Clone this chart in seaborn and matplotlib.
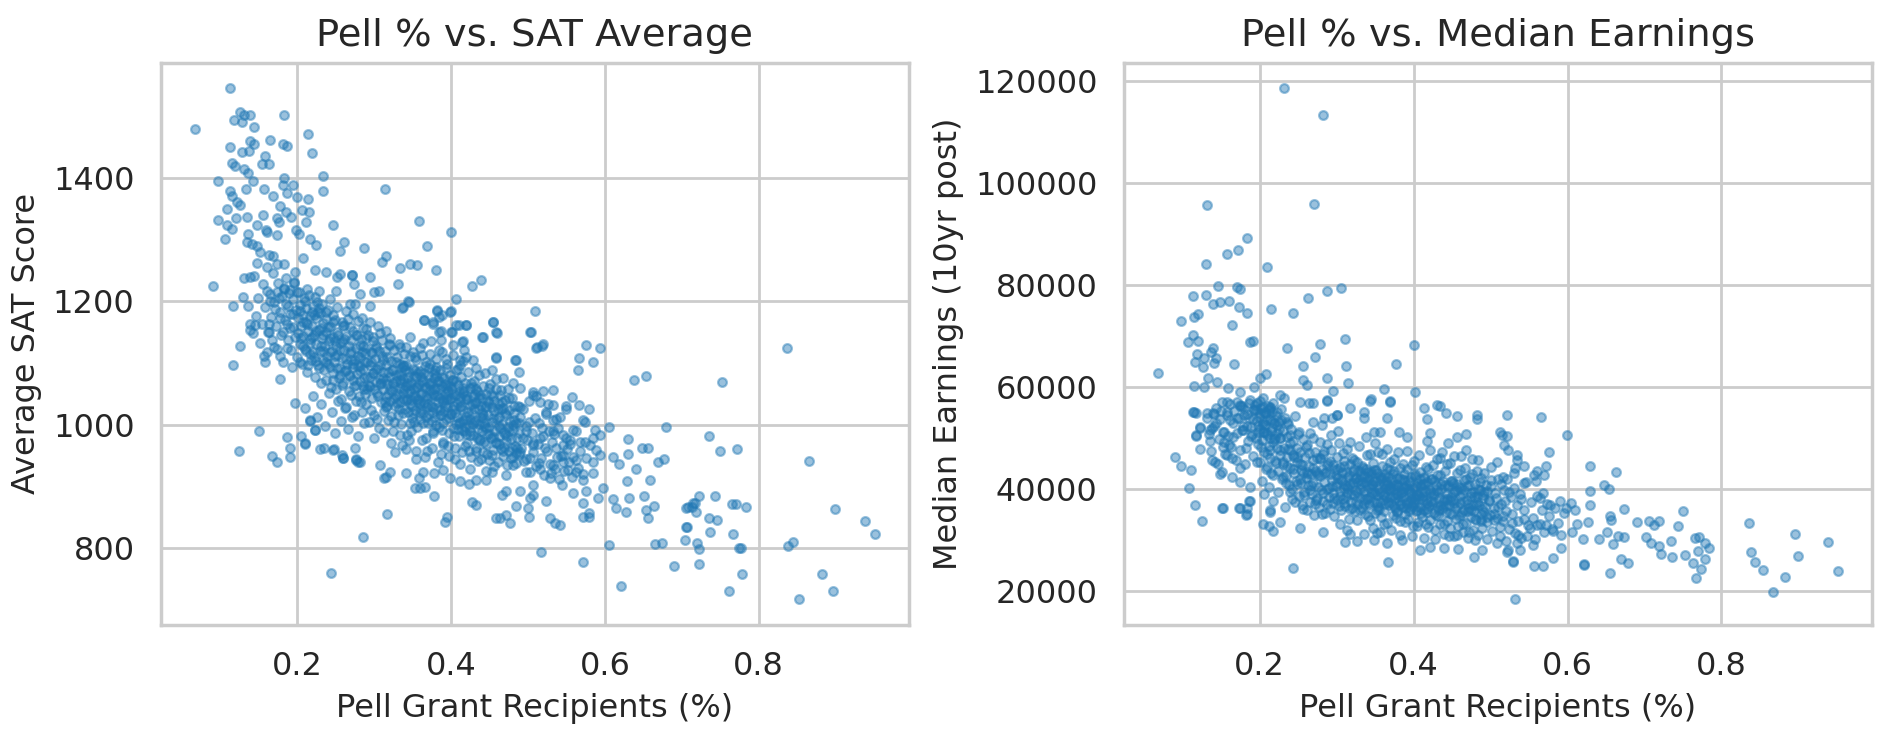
import matplotlib
matplotlib.use('Agg')
import matplotlib.pyplot as plt
import pandas as pd
import seaborn as sns

# -- Data (pell share, SAT average) ----------------------------------------
sat_sparse = [
    (0.113, 1545), (0.067, 1479), (0.126, 1506), (0.131, 1502), (0.139, 1502), (0.118, 1493), (0.128, 1490),
    (0.183, 1502), (0.144, 1482), (0.214, 1471), (0.219, 1440), (0.139, 1459), (0.144, 1455), (0.137, 1444),
    (0.128, 1441), (0.113, 1449), (0.158, 1435), (0.154, 1423), (0.163, 1423), (0.165, 1461), (0.181, 1455),
    (0.187, 1452), (0.115, 1424), (0.119, 1419), (0.131, 1414), (0.136, 1408), (0.097, 1395), (0.142, 1395),
    (0.183, 1399), (0.181, 1388), (0.187, 1376), (0.195, 1389), (0.234, 1402), (0.234, 1379), (0.314, 1382),
    (0.113, 1379), (0.115, 1371), (0.122, 1361), (0.126, 1356), (0.133, 1381), (0.157, 1381), (0.169, 1371),
    (0.178, 1354), (0.185, 1344), (0.192, 1336), (0.200, 1369), (0.214, 1366), (0.206, 1347), (0.215, 1344),
    (0.211, 1328), (0.108, 1350), (0.097, 1332), (0.120, 1334), (0.134, 1337), (0.155, 1340), (0.173, 1334),
    (0.176, 1329), (0.148, 1324), (0.109, 1324), (0.115, 1317), (0.106, 1300), (0.136, 1309), (0.159, 1315),
    (0.161, 1312), (0.174, 1307), (0.198, 1315), (0.202, 1309), (0.246, 1323), (0.358, 1330), (0.400, 1312),
    (0.216, 1300), (0.224, 1291), (0.261, 1296), (0.255, 1282), (0.287, 1286), (0.369, 1290), (0.310, 1264),
    (0.316, 1273), (0.135, 1296), (0.141, 1293), (0.148, 1290), (0.152, 1279), (0.163, 1275), (0.147, 1262),
    (0.161, 1255), (0.168, 1274), (0.174, 1261), (0.183, 1261), (0.207, 1270), (0.223, 1251), (0.238, 1247),
    (0.255, 1244), (0.271, 1243), (0.294, 1239), (0.334, 1254), (0.347, 1261), (0.356, 1258), (0.380, 1251),
    (0.091, 1224), (0.131, 1237), (0.138, 1239), (0.144, 1241), (0.331, 1228), (0.427, 1224), (0.439, 1234),
    (0.406, 1203), (0.509, 1184), (0.344, 1200), (0.336, 1189), (0.116, 1192), (0.136, 1192), (0.129, 1207),
    (0.161, 1217), (0.165, 1201), (0.174, 1215), (0.183, 1220), (0.196, 1231), (0.200, 1215), (0.213, 1220),
    (0.228, 1216), (0.250, 1217), (0.252, 1239), (0.271, 1242), (0.274, 1228), (0.282, 1212), (0.300, 1215),
    (0.306, 1217), (0.295, 1192), (0.139, 1163), (0.145, 1161), (0.163, 1163), (0.163, 1150), (0.139, 1153),
    (0.126, 1128), (0.365, 1169), (0.384, 1174), (0.382, 1185), (0.398, 1183), (0.377, 1163), (0.410, 1161),
    (0.419, 1161), (0.415, 1136), (0.400, 1150), (0.384, 1150), (0.440, 1142), (0.454, 1167), (0.460, 1149),
    (0.503, 1150), (0.512, 1126), (0.518, 1128), (0.484, 1104), (0.458, 1109), (0.170, 1126), (0.177, 1111),
    (0.157, 1112), (0.244, 760), (0.285, 818), (0.317, 855), (0.353, 897), (0.360, 897), (0.366, 899),
    (0.378, 884), (0.392, 842), (0.395, 851), (0.427, 874), (0.432, 870), (0.459, 849), (0.464, 849),
    (0.471, 853), (0.477, 840), (0.484, 868), (0.500, 865), (0.502, 851), (0.517, 794), (0.524, 877),
    (0.529, 849), (0.535, 840), (0.542, 838), (0.572, 777), (0.572, 851), (0.580, 851), (0.572, 873),
    (0.580, 857), (0.606, 805), (0.621, 738), (0.690, 771), (0.665, 807), (0.674, 808), (0.704, 813),
    (0.706, 835), (0.706, 865), (0.713, 867), (0.717, 873), (0.504, 1150), (0.511, 1125), (0.519, 1130),
    (0.575, 1129), (0.594, 1125), (0.567, 1108), (0.565, 1088), (0.584, 1101), (0.638, 1073), (0.654, 1079),
    (0.679, 996), (0.606, 996), (0.630, 977), (0.648, 963), (0.656, 963), (0.669, 939), (0.677, 944),
    (0.610, 947), (0.619, 936), (0.630, 953), (0.641, 929), (0.629, 909), (0.631, 882), (0.651, 884),
    (0.659, 911), (0.611, 879), (0.615, 865), (0.628, 859), (0.654, 862), (0.656, 849), (0.664, 869),
    (0.455, 1167), (0.459, 1150), (0.441, 1142), (0.458, 1108), (0.483, 1105), (0.453, 1088), (0.488, 1085),
    (0.365, 1170), (0.377, 1167), (0.382, 1184), (0.388, 1177), (0.400, 1184), (0.407, 1162), (0.420, 1161),
    (0.387, 1151), (0.387, 1137), (0.401, 1150), (0.414, 1134), (0.417, 1121), (0.412, 1105), (0.429, 1105),
    (0.338, 1191), (0.345, 1198), (0.275, 1195), (0.269, 1196), (0.210, 970), (0.229, 961), (0.247, 959),
    (0.258, 951), (0.260, 946), (0.223, 991), (0.217, 1006), (0.275, 962), (0.277, 942), (0.282, 939),
    (0.308, 935), (0.315, 916), (0.313, 913), (0.321, 924), (0.342, 921), (0.358, 913), (0.364, 924),
    (0.378, 922), (0.390, 927), (0.399, 913), (0.411, 909), (0.423, 904), (0.433, 911), (0.446, 911),
    (0.453, 924), (0.466, 886), (0.472, 892), (0.490, 892), (0.503, 882), (0.507, 886), (0.544, 902),
    (0.559, 889), (0.576, 892), (0.591, 881), (0.598, 897), (0.552, 927), (0.563, 924), (0.572, 911),
    (0.585, 921), (0.533, 935), (0.546, 951), (0.563, 943), (0.576, 946), (0.585, 940), (0.594, 951),
    (0.546, 967), (0.555, 968), (0.568, 972), (0.581, 967), (0.585, 978), (0.594, 983), (0.589, 959),
    (0.557, 1045), (0.566, 1032), (0.580, 1025), (0.550, 1026), (0.572, 1008), (0.574, 1005), (0.559, 991),
    (0.587, 991), (0.533, 1056), (0.520, 1054), (0.507, 1053), (0.533, 1032), (0.537, 1010), (0.533, 989),
    (0.468, 1075), (0.481, 1067), (0.490, 1059), (0.507, 1048), (0.516, 1037), (0.524, 1021), (0.498, 989),
    (0.516, 978), (0.507, 967), (0.503, 946), (0.516, 929), (0.529, 913), (0.490, 956), (0.481, 935),
    (0.472, 919), (0.498, 924), (0.507, 902), (0.837, 1125), (0.753, 1069), (0.736, 982), (0.772, 960),
    (0.750, 957), (0.866, 941), (0.723, 885), (0.743, 885), (0.715, 873), (0.708, 866), (0.719, 858),
    (0.735, 849), (0.746, 845), (0.765, 871), (0.771, 871), (0.783, 866), (0.707, 835), (0.737, 826),
    (0.767, 823), (0.720, 808), (0.723, 799), (0.775, 801), (0.777, 801), (0.900, 863), (0.939, 844),
    (0.951, 823), (0.838, 804), (0.845, 810), (0.882, 758), (0.897, 731), (0.853, 717), (0.778, 758),
    (0.762, 731), (0.723, 774), (0.116, 1096), (0.158, 1102), (0.177, 1074), (0.150, 989), (0.124, 958),
    (0.167, 949), (0.174, 939), (0.186, 980), (0.191, 962), (0.191, 947), (0.197, 1035), (0.210, 1027),
    (0.205, 982), (0.210, 969), (0.216, 1008), (0.223, 992), (0.235, 962), (0.248, 960), (0.259, 946),
    (0.276, 944), (0.279, 939),
]

# dense band, estimated by eye
sat_dense = [
    (0.171, 1188), (0.176, 1205), (0.178, 1172), (0.181, 1150), (0.183, 1221), (0.185, 1196), (0.186, 1163),
    (0.188, 1137), (0.189, 1214), (0.191, 1180), (0.192, 1121), (0.194, 1203), (0.195, 1158), (0.196, 1229),
    (0.197, 1142), (0.198, 1186), (0.199, 1109), (0.201, 1172), (0.202, 1215), (0.203, 1131), (0.204, 1194),
    (0.205, 1160), (0.206, 1098), (0.207, 1178), (0.208, 1143), (0.209, 1206), (0.210, 1122), (0.211, 1167),
    (0.212, 1189), (0.213, 1085), (0.214, 1151), (0.215, 1210), (0.216, 1133), (0.217, 1176), (0.218, 1104),
    (0.219, 1160), (0.220, 1192), (0.221, 1118), (0.222, 1145), (0.223, 1078), (0.224, 1172), (0.225, 1130),
    (0.226, 1198), (0.227, 1096), (0.228, 1153), (0.229, 1119), (0.230, 1181), (0.231, 1067), (0.232, 1140),
    (0.233, 1105), (0.234, 1164), (0.235, 1088), (0.236, 1127), (0.237, 1150), (0.238, 1073), (0.239, 1112),
    (0.240, 1186), (0.241, 1135), (0.242, 1094), (0.243, 1158), (0.244, 1061), (0.245, 1120), (0.246, 1142),
    (0.247, 1083), (0.248, 1101), (0.249, 1169), (0.250, 1128), (0.251, 1057), (0.252, 1113), (0.253, 1146),
    (0.254, 1075), (0.255, 1092), (0.256, 1132), (0.257, 1041), (0.258, 1108), (0.259, 1160), (0.260, 1068),
    (0.261, 1121), (0.262, 1087), (0.263, 1143), (0.264, 1029), (0.265, 1099), (0.266, 1171), (0.267, 1054),
    (0.268, 1116), (0.269, 1079), (0.270, 1137), (0.271, 1012), (0.272, 1094), (0.273, 1152), (0.274, 1063),
    (0.275, 1105), (0.276, 1038), (0.277, 1125), (0.278, 1082), (0.279, 1168), (0.280, 1047), (0.281, 1110),
    (0.282, 1071), (0.283, 1139), (0.284, 1021), (0.285, 1090), (0.286, 1156), (0.287, 1058), (0.288, 1102),
    (0.289, 1033), (0.290, 1124), (0.291, 1077), (0.292, 1145), (0.293, 1004), (0.294, 1096), (0.295, 1062),
    (0.296, 1118), (0.297, 1043), (0.298, 1084), (0.299, 1135), (0.300, 1016), (0.301, 1107), (0.302, 1069),
    (0.303, 1128), (0.304, 1051), (0.305, 1091), (0.306, 995), (0.307, 1074), (0.308, 1148), (0.309, 1036),
    (0.310, 1112), (0.311, 1058), (0.312, 1086), (0.313, 1022), (0.314, 1119), (0.315, 1045), (0.316, 1097),
    (0.317, 1066), (0.318, 1008), (0.319, 1131), (0.320, 1077), (0.321, 1039), (0.322, 1103), (0.323, 1054),
    (0.324, 989), (0.325, 1088), (0.326, 1121), (0.327, 1031), (0.328, 1070), (0.329, 1047), (0.330, 1109),
    (0.331, 1015), (0.332, 1082), (0.333, 1060), (0.334, 1126), (0.335, 1001), (0.336, 1093), (0.337, 1042),
    (0.338, 1074), (0.339, 1115), (0.340, 1026), (0.341, 1063), (0.342, 1097), (0.343, 984), (0.344, 1052),
    (0.345, 1085), (0.346, 1034), (0.347, 1112), (0.348, 1069), (0.349, 1011), (0.350, 1046), (0.351, 1091),
    (0.352, 1057), (0.353, 1023), (0.354, 1078), (0.355, 1104), (0.356, 996), (0.357, 1040), (0.358, 1066),
    (0.359, 1019), (0.360, 1087), (0.361, 1050), (0.362, 1113), (0.363, 1003), (0.364, 1072), (0.365, 1035),
    (0.366, 1095), (0.367, 1061), (0.368, 979), (0.369, 1044), (0.370, 1081), (0.371, 1017), (0.372, 1056),
    (0.373, 1099), (0.374, 1030), (0.375, 1068), (0.376, 990), (0.377, 1049), (0.378, 1084), (0.379, 1012),
    (0.380, 1059), (0.381, 1106), (0.382, 1027), (0.383, 1071), (0.384, 997), (0.385, 1043), (0.386, 1088),
    (0.387, 1015), (0.388, 1063), (0.389, 1036), (0.390, 972), (0.391, 1076), (0.392, 1050), (0.393, 1009),
    (0.394, 1092), (0.395, 1029), (0.396, 1065), (0.397, 986), (0.398, 1041), (0.399, 1080), (0.400, 1018),
    (0.315, 1072), (0.322, 1014), (0.328, 1101), (0.333, 1037), (0.338, 1051), (0.343, 1068), (0.347, 1002),
    (0.352, 1079), (0.356, 1042), (0.361, 1025), (0.366, 1060), (0.371, 1092), (0.375, 1006), (0.379, 1047),
    (0.384, 1070), (0.388, 992), (0.392, 1031), (0.396, 1054), (0.318, 1049), (0.326, 1063), (0.335, 1080),
    (0.344, 1021), (0.353, 1046), (0.362, 1069), (0.370, 1033), (0.378, 1058), (0.386, 1024), (0.394, 1045),
    (0.401, 1057), (0.402, 995), (0.403, 1073), (0.404, 1031), (0.405, 962), (0.406, 1048), (0.407, 1088),
    (0.408, 1012), (0.409, 1064), (0.410, 981), (0.411, 1039), (0.412, 1005), (0.413, 1077), (0.414, 956),
    (0.415, 1023), (0.416, 1052), (0.417, 989), (0.418, 1068), (0.419, 1014), (0.420, 1041), (0.421, 970),
    (0.422, 1086), (0.423, 1000), (0.424, 1032), (0.425, 1059), (0.426, 948), (0.427, 1018), (0.428, 1046),
    (0.429, 983), (0.430, 1071), (0.431, 1008), (0.432, 1037), (0.433, 962), (0.434, 1054), (0.435, 993),
    (0.436, 1025), (0.437, 1080), (0.438, 976), (0.439, 1012), (0.440, 1043), (0.441, 955), (0.442, 1062),
    (0.443, 998), (0.444, 1029), (0.445, 968), (0.446, 1050), (0.447, 985), (0.448, 1016), (0.449, 943),
    (0.450, 1035), (0.451, 1066), (0.452, 978), (0.453, 1004), (0.454, 1047), (0.455, 959), (0.456, 1022),
    (0.457, 990), (0.458, 1058), (0.459, 971), (0.460, 1010), (0.461, 940), (0.462, 1033), (0.463, 982),
    (0.464, 1048), (0.465, 961), (0.466, 1001), (0.467, 1027), (0.468, 950), (0.469, 988), (0.470, 1040),
    (0.471, 973), (0.472, 1015), (0.473, 935), (0.474, 996), (0.475, 1024), (0.476, 958), (0.477, 1006),
    (0.478, 977), (0.479, 1044), (0.480, 947), (0.481, 992), (0.482, 1019), (0.483, 965), (0.484, 938),
    (0.485, 1003), (0.486, 978), (0.487, 1031), (0.488, 953), (0.489, 987), (0.490, 1012), (0.405, 1019),
    (0.412, 1045), (0.418, 996), (0.424, 1010), (0.431, 1050), (0.437, 1001), (0.443, 972), (0.450, 997),
    (0.456, 1038), (0.463, 1013), (0.469, 964), (0.476, 990), (0.410, 1002), (0.420, 985), (0.430, 1026),
    (0.440, 990), (0.455, 980), (0.465, 1025), (0.480, 1000), (0.491, 962), (0.493, 1026), (0.495, 941),
    (0.497, 998), (0.499, 975), (0.501, 1039), (0.503, 924), (0.505, 987), (0.507, 955), (0.509, 1011),
    (0.511, 933), (0.513, 969), (0.515, 1002), (0.517, 946), (0.519, 981), (0.521, 918), (0.523, 1018),
    (0.525, 958), (0.527, 990), (0.529, 937), (0.531, 972), (0.533, 1008), (0.535, 929), (0.537, 963),
    (0.539, 995), (0.541, 912), (0.543, 950), (0.545, 984), (0.547, 925), (0.549, 1030), (0.551, 961),
    (0.553, 939), (0.555, 976), (0.557, 915), (0.559, 948), (0.562, 990), (0.565, 930), (0.568, 958),
    (0.571, 920), (0.574, 972), (0.142, 1148), (0.146, 1176), (0.149, 1205), (0.152, 1132), (0.154, 1163),
    (0.156, 1228), (0.158, 1190), (0.160, 1118), (0.162, 1150), (0.164, 1212), (0.166, 1175), (0.167, 1137),
    (0.169, 1245), (0.170, 1198), (0.172, 1160), (0.173, 1122), (0.175, 1230), (0.177, 1183), (0.179, 1145),
    (0.180, 1209), (0.182, 1101), (0.184, 1170), (0.185, 1238), (0.187, 1125), (0.188, 1193), (0.190, 1156),
    (0.191, 1218), (0.193, 1094), (0.195, 1180), (0.197, 1247),
]

# second pass over the blob, wider spread
sat_fill = [
    (0.221, 1046), (0.226, 1012), (0.231, 1033), (0.236, 998), (0.241, 1052), (0.245, 1020), (0.249, 987),
    (0.253, 1039), (0.257, 1006), (0.262, 1027), (0.266, 993), (0.270, 1048), (0.274, 1015), (0.279, 982),
    (0.283, 1036), (0.287, 1002), (0.291, 1058), (0.296, 1024), (0.300, 979), (0.304, 1010), (0.308, 1066),
    (0.313, 988), (0.317, 1030), (0.322, 971), (0.326, 1005), (0.223, 1207), (0.227, 1183), (0.232, 1196),
    (0.237, 1171), (0.242, 1203), (0.247, 1178), (0.252, 1190), (0.258, 1166), (0.263, 1184), (0.268, 1158),
    (0.273, 1179), (0.278, 1146), (0.284, 1172), (0.289, 1155), (0.294, 1167), (0.299, 1142), (0.305, 1160),
    (0.310, 1137), (0.316, 1152), (0.321, 1129), (0.203, 1102), (0.205, 1141), (0.208, 1166), (0.211, 1119),
    (0.214, 1096), (0.217, 1138), (0.219, 1183), (0.222, 1109), (0.225, 1151), (0.228, 1092), (0.231, 1128),
    (0.234, 1145), (0.237, 1101), (0.240, 1158), (0.243, 1117), (0.246, 1073), (0.249, 1136), (0.252, 1092),
    (0.255, 1121), (0.258, 1064), (0.261, 1139), (0.264, 1107), (0.267, 1081), (0.270, 1120), (0.273, 1098),
    (0.276, 1065), (0.279, 1111), (0.282, 1087), (0.285, 1128), (0.288, 1049), (0.291, 1101), (0.294, 1077),
    (0.297, 1116), (0.300, 1058), (0.303, 1091), (0.306, 1120), (0.309, 1068), (0.312, 1104), (0.315, 1029),
    (0.318, 1085), (0.321, 1140), (0.324, 1068), (0.327, 955), (0.330, 1035), (0.333, 1098), (0.336, 967),
    (0.339, 1058), (0.342, 1126), (0.345, 976), (0.348, 1040), (0.351, 1118), (0.354, 958), (0.357, 1083),
    (0.360, 1010), (0.363, 1133), (0.366, 948), (0.369, 1029), (0.372, 1115), (0.375, 962), (0.378, 1075),
    (0.381, 1000), (0.384, 1121), (0.387, 952), (0.390, 1040), (0.393, 1106), (0.396, 966), (0.399, 1062),
    (0.402, 1113), (0.405, 944), (0.408, 1035), (0.411, 1097), (0.414, 992), (0.417, 1054), (0.420, 1110),
    (0.423, 957), (0.426, 1068), (0.429, 1001), (0.432, 1092), (0.435, 941), (0.438, 1048), (0.441, 1011),
    (0.444, 1083), (0.447, 952), (0.450, 1060), (0.453, 1029), (0.456, 933), (0.459, 1074), (0.462, 998),
    (0.465, 1056), (0.331, 1049), (0.334, 1072), (0.337, 1019), (0.340, 1088), (0.343, 1041), (0.346, 1064),
    (0.349, 1030), (0.352, 1005), (0.355, 1061), (0.358, 1034), (0.361, 1078), (0.364, 1019), (0.367, 1046),
    (0.370, 1003), (0.373, 1065), (0.376, 1028), (0.379, 1089), (0.382, 1048), (0.385, 1016), (0.388, 1077),
    (0.391, 1022), (0.394, 1060), (0.397, 1011), (0.400, 1043), (0.403, 1026), (0.406, 1071), (0.409, 993),
    (0.412, 1028), (0.415, 1060), (0.418, 1007), (0.421, 1042), (0.424, 984), (0.427, 1033), (0.430, 1004),
    (0.433, 1058), (0.436, 977), (0.439, 1030), (0.442, 1016), (0.445, 995), (0.448, 1039), (0.462, 969),
    (0.466, 1037), (0.470, 985), (0.474, 1058), (0.478, 946), (0.482, 1008), (0.486, 963), (0.490, 1028),
    (0.494, 979), (0.498, 944), (0.502, 1005), (0.506, 971), (0.510, 1046), (0.514, 938), (0.518, 995),
    (0.522, 962), (0.526, 1034), (0.530, 921), (0.534, 985), (0.538, 948), (0.542, 1012), (0.546, 939),
    (0.550, 978),
]

# third pass, the saturated core
sat_core = [
    (0.281, 1095), (0.284, 1118), (0.287, 1076), (0.290, 1140), (0.293, 1062), (0.296, 1101), (0.299, 1083),
    (0.302, 1124), (0.305, 1046), (0.308, 1097), (0.311, 1075), (0.314, 1036), (0.317, 1110), (0.320, 1058),
    (0.323, 1089), (0.326, 1044), (0.329, 1081), (0.332, 1025), (0.335, 1067), (0.338, 1097), (0.341, 1040),
    (0.344, 1077), (0.347, 1055), (0.350, 1019), (0.353, 1088), (0.356, 1061), (0.359, 1035), (0.362, 1052),
    (0.365, 1083), (0.368, 1012), (0.371, 1068), (0.374, 1046), (0.377, 1021), (0.380, 1079), (0.383, 1037),
    (0.386, 1058), (0.389, 1003), (0.392, 1066), (0.395, 1042), (0.398, 1018), (0.401, 1072), (0.404, 1049),
    (0.407, 1001), (0.410, 1055), (0.413, 1030), (0.416, 1008), (0.419, 1047), (0.422, 1021), (0.425, 990),
    (0.428, 1061), (0.431, 1035), (0.434, 979), (0.437, 1044), (0.440, 1019), (0.443, 1002), (0.446, 1030),
    (0.449, 985), (0.452, 1049), (0.455, 1011), (0.458, 972), (0.461, 1026), (0.464, 994), (0.467, 957),
    (0.470, 1019), (0.473, 981), (0.476, 1043), (0.479, 963), (0.482, 1031), (0.485, 954), (0.488, 1002),
    (0.201, 1148), (0.204, 1184), (0.207, 1127), (0.210, 1201), (0.213, 1163), (0.216, 1114), (0.219, 1142),
    (0.222, 1178), (0.225, 1103), (0.228, 1189), (0.231, 1156), (0.234, 1120), (0.237, 1183), (0.240, 1099),
    (0.243, 1141), (0.246, 1166), (0.249, 1112), (0.252, 1150), (0.255, 1080), (0.258, 1135), (0.261, 1161),
    (0.264, 1089), (0.267, 1127), (0.270, 1104), (0.273, 1073), (0.276, 1146), (0.279, 1095), (0.282, 1129),
    (0.285, 1062), (0.288, 1116), (0.332, 1131), (0.339, 1095), (0.346, 1142), (0.353, 1110), (0.360, 1125),
    (0.367, 1101), (0.374, 1135), (0.381, 1093), (0.388, 1117), (0.395, 1098), (0.402, 1129), (0.409, 1090),
    (0.416, 1103), (0.334, 983), (0.341, 961), (0.348, 990), (0.355, 944), (0.362, 975), (0.369, 957),
    (0.376, 987), (0.383, 939), (0.390, 968), (0.397, 950), (0.404, 981), (0.411, 936), (0.418, 966),
    (0.425, 929), (0.432, 958), (0.439, 944), (0.446, 925), (0.453, 951),
]

# -- Data (pell share, median earnings) ------------------------------------
earn_sparse = [
    (0.232, 118520), (0.282, 113250), (0.132, 95560), (0.271, 95820), (0.184, 89150), (0.157, 86010),
    (0.172, 86860), (0.131, 84050), (0.209, 83590), (0.146, 79800), (0.170, 79540), (0.175, 79220),
    (0.113, 77840), (0.130, 78040), (0.140, 76210), (0.148, 76600), (0.160, 76860), (0.173, 75620),
    (0.184, 74440), (0.287, 78820), (0.306, 79350), (0.263, 77390), (0.215, 75230), (0.244, 74440),
    (0.098, 72940), (0.115, 73790), (0.120, 74250), (0.164, 72160), (0.114, 70200), (0.107, 68760),
    (0.120, 69020), (0.139, 67710), (0.137, 66930), (0.119, 66410), (0.116, 64970), (0.128, 65620),
    (0.143, 65750), (0.141, 64640), (0.127, 63990), (0.188, 68760), (0.192, 69020), (0.235, 67580),
    (0.279, 68430), (0.311, 69350), (0.272, 65820), (0.167, 64510), (0.068, 62680), (0.257, 64120),
    (0.312, 64120), (0.377, 64510), (0.400, 68240), (0.208, 62550), (0.201, 61700), (0.193, 60070),
    (0.256, 61370), (0.261, 60390), (0.287, 61700), (0.315, 60720), (0.296, 59280), (0.287, 57450),
    (0.317, 55820), (0.345, 57650), (0.370, 57250), (0.361, 59540), (0.402, 58950), (0.115, 60260),
    (0.128, 60070), (0.133, 61700), (0.145, 61050), (0.159, 59740), (0.175, 58950), (0.413, 55950),
    (0.430, 56470), (0.435, 56340), (0.442, 54840), (0.456, 54380), (0.483, 54510), (0.482, 53730),
    (0.521, 54510), (0.512, 51240), (0.522, 50460), (0.421, 50920), (0.457, 50260), (0.468, 50720),
    (0.115, 55160), (0.141, 54640), (0.158, 55160), (0.154, 51240), (0.123, 52220), (0.117, 50460),
    (0.132, 53860), (0.138, 51890), (0.366, 53860), (0.336, 53860), (0.301, 54510), (0.284, 53860),
    (0.158, 57120), (0.175, 56470), (0.193, 55690), (0.206, 55160), (0.214, 56140), (0.227, 58430),
    (0.232, 57780), (0.090, 46340), (0.098, 44510), (0.111, 43730), (0.108, 40130), (0.116, 36860),
    (0.125, 33730), (0.114, 55030), (0.118, 54840), (0.132, 54840), (0.140, 54840), (0.117, 50590),
    (0.122, 52030), (0.136, 51570), (0.123, 47840), (0.135, 49410), (0.138, 45690), (0.142, 45360),
    (0.153, 48300), (0.160, 48630), (0.164, 46010), (0.151, 43400), (0.149, 42880), (0.173, 36210),
    (0.184, 36210), (0.183, 35030), (0.151, 36210), (0.186, 37650), (0.175, 41440), (0.188, 40460),
    (0.164, 42420), (0.205, 33070), (0.212, 32740), (0.218, 31830), (0.227, 33460), (0.214, 35880),
    (0.213, 35420), (0.244, 24580), (0.252, 32290), (0.282, 31500), (0.311, 29670), (0.318, 31110),
    (0.326, 29800), (0.348, 30000), (0.352, 31310), (0.365, 29350), (0.367, 25620), (0.385, 30000),
    (0.408, 28040), (0.422, 28690), (0.439, 28500), (0.458, 28240), (0.478, 26730), (0.489, 28040),
    (0.508, 29350), (0.521, 27710), (0.529, 25750), (0.532, 18370), (0.534, 29350), (0.417, 53730),
    (0.417, 49410), (0.445, 48950), (0.335, 55030), (0.344, 57250), (0.370, 57120), (0.381, 51240),
    (0.391, 50260), (0.357, 51240), (0.348, 51240), (0.253, 57120), (0.264, 56800), (0.270, 56800),
    (0.287, 57250), (0.300, 54510), (0.294, 53990), (0.281, 52550), (0.270, 53080), (0.235, 53210),
    (0.222, 52550), (0.205, 51240), (0.214, 49930), (0.227, 49930), (0.240, 50590), (0.152, 36200),
    (0.175, 36340), (0.182, 34890), (0.187, 37640), (0.566, 54050), (0.599, 50520), (0.576, 47190),
    (0.515, 50650), (0.517, 48690), (0.523, 47710), (0.535, 46730), (0.535, 45750), (0.544, 44440),
    (0.531, 43140), (0.572, 44580), (0.561, 43460), (0.557, 42810), (0.570, 42810), (0.559, 41500),
    (0.544, 41180), (0.629, 44580), (0.663, 43270), (0.629, 39540), (0.648, 40850), (0.654, 40070),
    (0.629, 36930), (0.674, 36080), (0.655, 34640), (0.657, 33990), (0.750, 35620), (0.690, 33460),
    (0.706, 33660), (0.713, 33010), (0.719, 33790), (0.743, 32680), (0.702, 30520), (0.709, 29410),
    (0.719, 28760), (0.722, 27250), (0.735, 29870), (0.736, 26670), (0.753, 26990), (0.765, 30390),
    (0.771, 30590), (0.778, 29410), (0.784, 28430), (0.770, 27780), (0.778, 26340), (0.763, 25490),
    (0.774, 24380), (0.767, 22550), (0.673, 30520), (0.665, 30720), (0.659, 29210), (0.641, 30260),
    (0.651, 31570), (0.620, 30260), (0.606, 31570), (0.612, 33140), (0.626, 33530), (0.621, 25290),
    (0.655, 23530), (0.670, 26340), (0.679, 25490), (0.581, 26470), (0.556, 24840), (0.529, 25820),
    (0.836, 33330), (0.839, 27650), (0.844, 25620), (0.854, 24050), (0.882, 22740), (0.867, 19800),
    (0.896, 31180), (0.900, 26800), (0.939, 29610), (0.951, 23860), (0.604, 37250), (0.598, 36270),
    (0.610, 35950), (0.590, 37580), (0.577, 36930), (0.568, 39220), (0.564, 38240), (0.561, 33010),
    (0.572, 33010), (0.581, 31700), (0.592, 28430), (0.555, 29080), (0.538, 28100), (0.523, 28100),
    (0.551, 32350), (0.622, 25050), (0.568, 25000),
]

# dense band, estimated by eye
earn_dense = [
    (0.141, 52340), (0.144, 55810), (0.147, 49870), (0.149, 53620), (0.151, 57140), (0.153, 51080),
    (0.155, 46920), (0.157, 54470), (0.159, 50360), (0.161, 56620), (0.163, 48150), (0.165, 52890),
    (0.167, 55240), (0.169, 45730), (0.171, 50910), (0.173, 53960), (0.175, 47680), (0.177, 56180),
    (0.179, 51520), (0.181, 44890), (0.183, 54710), (0.185, 49330), (0.187, 57450), (0.189, 52150),
    (0.191, 46410), (0.193, 55530), (0.195, 50020), (0.196, 53380), (0.197, 56840), (0.198, 48760),
    (0.199, 54120), (0.200, 51770), (0.201, 45380), (0.202, 55960), (0.203, 49640), (0.204, 53050),
    (0.205, 57810), (0.206, 47190), (0.207, 52480), (0.208, 54930), (0.209, 44260), (0.210, 50570),
    (0.211, 56290), (0.212, 48420), (0.213, 53710), (0.214, 46030), (0.215, 51330), (0.216, 55010),
    (0.217, 42780), (0.218, 49210), (0.219, 52860), (0.220, 45560), (0.221, 54380), (0.222, 47940),
    (0.223, 50880), (0.224, 43620), (0.225, 53170), (0.226, 46750), (0.227, 49980), (0.228, 55620),
    (0.229, 41950), (0.230, 51460), (0.231, 44830), (0.232, 48070), (0.233, 53920), (0.234, 42540),
    (0.235, 50240), (0.236, 46210), (0.237, 52690), (0.238, 40870), (0.239, 47560), (0.240, 44190),
    (0.241, 51810), (0.242, 39920), (0.243, 46660), (0.244, 49350), (0.245, 43080), (0.246, 54240),
    (0.247, 41510), (0.248, 48120), (0.249, 45270), (0.250, 50690), (0.251, 38640), (0.252, 44910),
    (0.253, 47320), (0.254, 41250), (0.255, 36870), (0.256, 49780), (0.257, 43060), (0.258, 39510),
    (0.259, 46180), (0.260, 42230), (0.261, 35920), (0.262, 48530), (0.263, 40740), (0.264, 44470),
    (0.265, 37380), (0.266, 51040), (0.267, 42880), (0.268, 39060), (0.269, 45620), (0.270, 41170),
    (0.271, 34810), (0.272, 47250), (0.273, 43590), (0.274, 38270), (0.275, 45980), (0.276, 40350),
    (0.277, 36460), (0.278, 49120), (0.279, 42610), (0.280, 39840), (0.281, 44010), (0.282, 37710),
    (0.283, 46840), (0.284, 41430), (0.285, 35370), (0.286, 43280), (0.287, 48760), (0.288, 40010),
    (0.289, 45170), (0.290, 38520), (0.291, 42920), (0.292, 36180), (0.293, 47560), (0.294, 41850),
    (0.295, 39270), (0.296, 44650), (0.297, 34620), (0.298, 43770), (0.299, 40580), (0.300, 46290),
    (0.301, 37940), (0.302, 42070), (0.303, 49050), (0.304, 39650), (0.305, 44280), (0.306, 35840),
    (0.307, 41620), (0.308, 38030), (0.309, 45540), (0.310, 40270), (0.311, 36690), (0.312, 43410),
    (0.313, 47830), (0.314, 39180), (0.315, 42450), (0.316, 34190), (0.317, 44840), (0.318, 40910),
    (0.319, 37500), (0.320, 46070), (0.321, 41080), (0.322, 38840), (0.323, 43900), (0.324, 35630),
    (0.325, 42210), (0.326, 39470), (0.327, 45360), (0.328, 37060), (0.329, 41790), (0.330, 43620),
    (0.331, 38210), (0.332, 40950), (0.333, 36370), (0.334, 44120), (0.335, 39590), (0.336, 42640),
    (0.337, 35080), (0.338, 41310), (0.339, 46580), (0.340, 38060), (0.341, 43250), (0.342, 36840),
    (0.343, 40190), (0.344, 33970), (0.345, 42870), (0.346, 39130), (0.347, 45020), (0.348, 37410),
    (0.349, 41580), (0.350, 35290), (0.351, 43670), (0.352, 38740), (0.353, 40620), (0.354, 47310),
    (0.355, 36110), (0.356, 42040), (0.357, 39380), (0.358, 34520), (0.359, 44560), (0.360, 37860),
    (0.361, 41040), (0.362, 35770), (0.363, 43030), (0.364, 38450), (0.365, 40830), (0.366, 33380),
    (0.367, 42380), (0.368, 36930), (0.369, 39810), (0.370, 45290), (0.371, 37230), (0.372, 41760),
    (0.373, 34860), (0.374, 40060), (0.375, 43470), (0.376, 36270), (0.377, 38930), (0.378, 42210),
    (0.379, 35480), (0.380, 40420), (0.381, 37640), (0.382, 44190), (0.383, 33820), (0.384, 39240),
    (0.385, 41890), (0.386, 36560), (0.387, 38470), (0.388, 42930), (0.389, 35010), (0.390, 40760),
    (0.391, 37390), (0.392, 43840), (0.393, 34210), (0.394, 39560), (0.395, 41320), (0.396, 36020),
    (0.397, 38110), (0.398, 44740), (0.399, 32780), (0.400, 40240), (0.401, 37120), (0.402, 42590),
    (0.403, 35660), (0.404, 39020), (0.405, 41140), (0.406, 33590), (0.407, 38660), (0.408, 43310),
    (0.409, 36390), (0.410, 40510), (0.411, 34440), (0.412, 37780), (0.413, 42080), (0.414, 35860),
    (0.415, 39700), (0.416, 33100), (0.417, 41420), (0.418, 37260), (0.419, 44010), (0.420, 36750),
    (0.335, 37020), (0.342, 41930), (0.349, 39020), (0.356, 37450), (0.363, 40210), (0.370, 38380),
    (0.377, 41060), (0.384, 37050), (0.391, 39980), (0.398, 36690), (0.405, 38820), (0.412, 40930),
    (0.338, 43870), (0.352, 35890), (0.366, 44060), (0.380, 38850), (0.394, 35720), (0.408, 39450),
    (0.346, 40820), (0.360, 42270), (0.374, 36710), (0.388, 40150), (0.402, 38040), (0.416, 37920),
    (0.421, 39140), (0.422, 33910), (0.423, 41980), (0.424, 37030), (0.425, 44620), (0.426, 35240),
    (0.427, 38770), (0.428, 31960), (0.429, 40690), (0.430, 36450), (0.431, 42760), (0.432, 34620),
    (0.433, 38280), (0.434, 46060), (0.435, 33120), (0.436, 39930), (0.437, 36080), (0.438, 41550),
    (0.439, 31180), (0.440, 37570), (0.441, 43460), (0.442, 35410), (0.443, 39020), (0.444, 33660),
    (0.445, 40880), (0.446, 36960), (0.447, 45140), (0.448, 32430), (0.449, 38470), (0.450, 35030),
    (0.451, 41210), (0.452, 37780), (0.453, 30860), (0.454, 39560), (0.455, 34170), (0.456, 43050),
    (0.457, 36610), (0.458, 32740), (0.459, 40320), (0.460, 37240), (0.461, 46510), (0.462, 34890),
    (0.463, 38960), (0.464, 31540), (0.465, 41700), (0.466, 35920), (0.467, 44150), (0.468, 33280),
    (0.469, 37910), (0.470, 40560), (0.471, 30440), (0.472, 36330), (0.473, 42380), (0.474, 34520),
    (0.475, 38650), (0.476, 45820), (0.477, 32060), (0.478, 39480), (0.479, 35770), (0.480, 41060),
    (0.481, 33850), (0.482, 37360), (0.483, 43610), (0.484, 30980), (0.485, 36790), (0.486, 39900),
    (0.487, 34080), (0.488, 42140), (0.489, 32370), (0.490, 38180), (0.492, 35530), (0.494, 40770),
    (0.496, 33470), (0.498, 37690), (0.500, 44380), (0.502, 31720), (0.504, 36240), (0.506, 39310),
    (0.508, 34350), (0.510, 41870), (0.512, 30780), (0.514, 37020), (0.516, 33790), (0.518, 39760),
    (0.520, 35680), (0.522, 42010), (0.524, 32250), (0.526, 38440), (0.528, 35160), (0.530, 40230),
    (0.532, 31340), (0.534, 36880), (0.536, 33720), (0.538, 39050), (0.540, 30480), (0.543, 35940),
    (0.546, 41350), (0.549, 32960), (0.552, 37380), (0.555, 34410), (0.558, 30120), (0.561, 38720),
    (0.564, 33130), (0.567, 35850), (0.570, 31620), (0.573, 37060), (0.576, 34620), (0.580, 32080),
    (0.584, 36210), (0.588, 33350), (0.592, 30940), (0.596, 35280),
]

# second pass over the blob, wider spread
earn_fill = [
    (0.134, 50820), (0.137, 47360), (0.143, 52970), (0.146, 44850), (0.150, 55310), (0.154, 49220),
    (0.158, 46580), (0.162, 53440), (0.166, 50170), (0.170, 57020), (0.174, 44120), (0.178, 52380),
    (0.180, 55740), (0.182, 48060), (0.186, 53910), (0.190, 50740), (0.194, 56420), (0.196, 45260),
    (0.198, 52290), (0.200, 54880), (0.202, 48310), (0.204, 56050), (0.206, 51150), (0.208, 43880),
    (0.210, 53520), (0.212, 55480), (0.214, 47730), (0.216, 52040), (0.218, 56860), (0.220, 50070),
    (0.203, 41620), (0.206, 38940), (0.209, 46820), (0.212, 40380), (0.215, 43170), (0.218, 37660),
    (0.221, 45040), (0.224, 39510), (0.227, 47720), (0.230, 42260), (0.233, 36540), (0.236, 44580),
    (0.239, 49060), (0.242, 37950), (0.245, 46290), (0.248, 40940), (0.251, 51230), (0.254, 43740),
    (0.257, 36110), (0.260, 48220), (0.263, 42950), (0.266, 39730), (0.269, 50010), (0.272, 37020),
    (0.275, 43060), (0.278, 46150), (0.281, 35180), (0.284, 47430), (0.287, 44620), (0.290, 40230),
    (0.293, 50640), (0.296, 37190), (0.299, 42810), (0.302, 51310), (0.305, 33060), (0.308, 47020),
    (0.311, 40750), (0.314, 31920), (0.317, 49270), (0.320, 36370), (0.323, 45710), (0.326, 33940),
    (0.329, 48410), (0.332, 42550), (0.335, 31120), (0.338, 50120), (0.341, 34770), (0.344, 46840),
    (0.347, 32280), (0.350, 48950), (0.353, 43170), (0.356, 31640), (0.359, 46770), (0.362, 33210),
    (0.365, 47850), (0.368, 39990), (0.371, 32040), (0.374, 45860), (0.377, 34290), (0.380, 47190),
    (0.383, 31010), (0.386, 44830), (0.389, 33490), (0.392, 47460), (0.395, 37730), (0.398, 30720),
    (0.401, 45520), (0.404, 32660), (0.407, 46640), (0.410, 35300), (0.413, 30340), (0.416, 44370),
    (0.419, 32510), (0.422, 47630), (0.425, 38990), (0.428, 30110), (0.431, 45890), (0.434, 36820),
    (0.437, 47210), (0.440, 33230), (0.443, 44850), (0.446, 30730), (0.449, 41550), (0.301, 41140),
    (0.304, 38570), (0.307, 43320), (0.310, 37240), (0.313, 40620), (0.316, 42780), (0.319, 38950),
    (0.322, 41910), (0.325, 37660), (0.328, 43540), (0.331, 39930), (0.334, 41400), (0.337, 37950),
    (0.340, 42390), (0.343, 38410), (0.346, 40960), (0.349, 43730), (0.352, 37300), (0.355, 40060),
    (0.358, 42090), (0.361, 38860), (0.364, 41640), (0.367, 37510), (0.370, 40370), (0.373, 42990),
    (0.376, 38200), (0.379, 40690), (0.382, 36820), (0.385, 39440), (0.388, 41730), (0.391, 37020),
    (0.394, 40040), (0.397, 42440), (0.400, 38370), (0.403, 40580), (0.406, 36520), (0.409, 41880),
    (0.412, 38570), (0.415, 40980), (0.418, 36070), (0.421, 39670), (0.424, 42030), (0.427, 37420),
    (0.430, 39850), (0.433, 35920), (0.436, 41060), (0.439, 38090), (0.442, 36770), (0.445, 40410),
    (0.448, 37830), (0.451, 39260), (0.454, 36210), (0.457, 41040), (0.460, 38680), (0.463, 35500),
    (0.466, 39790), (0.469, 37060), (0.472, 40850), (0.475, 35810), (0.478, 38490), (0.481, 36950),
    (0.484, 40020), (0.487, 35130), (0.490, 38890), (0.493, 36480), (0.496, 39640), (0.499, 34880),
    (0.452, 46380), (0.456, 30940), (0.460, 43650), (0.464, 33080), (0.468, 47640), (0.472, 31560),
    (0.476, 42900), (0.480, 29950), (0.484, 45760), (0.488, 33700), (0.492, 43070), (0.496, 30260),
    (0.500, 41810), (0.504, 34010), (0.508, 45330), (0.512, 32640), (0.516, 42430), (0.520, 29880),
    (0.524, 39420), (0.528, 33410), (0.532, 44120), (0.536, 31050), (0.540, 38090), (0.544, 34190),
    (0.548, 30870),
]

# third pass, the saturated core
earn_core = [
    (0.171, 53980), (0.174, 56210), (0.177, 51640), (0.180, 54570), (0.183, 52260), (0.186, 56830),
    (0.189, 50480), (0.192, 53790), (0.195, 55420), (0.198, 51190), (0.201, 57180), (0.204, 52740),
    (0.207, 54910), (0.210, 50960), (0.213, 55830), (0.216, 53270), (0.219, 49880), (0.222, 55050),
    (0.225, 51680), (0.228, 53560), (0.231, 45370), (0.234, 41190), (0.237, 47830), (0.240, 39480),
    (0.243, 43860), (0.246, 37510), (0.249, 46270), (0.252, 41980), (0.255, 44740), (0.258, 38920),
    (0.261, 43380), (0.264, 47040), (0.267, 40860), (0.270, 44170), (0.273, 37940), (0.276, 42690),
    (0.279, 45790), (0.282, 39220), (0.285, 43050), (0.288, 37140), (0.291, 45430), (0.294, 40610),
    (0.297, 38230), (0.300, 43980), (0.303, 36660), (0.306, 41870), (0.309, 44490), (0.312, 38430),
    (0.315, 40190), (0.318, 36030), (0.321, 43580), (0.324, 39760), (0.327, 41420), (0.330, 35830),
    (0.333, 44600), (0.336, 38960), (0.339, 40830), (0.342, 37180), (0.345, 43290), (0.348, 39430),
    (0.351, 41560), (0.354, 36400), (0.357, 42500), (0.360, 39070), (0.363, 37060), (0.366, 41240),
    (0.369, 43660), (0.372, 38640), (0.375, 40850), (0.378, 35710), (0.381, 42070), (0.384, 38370),
    (0.387, 40380), (0.390, 36220), (0.393, 41750), (0.396, 39260), (0.399, 37390), (0.402, 43020),
    (0.405, 35890), (0.408, 40800), (0.411, 38170), (0.414, 42260), (0.417, 35440), (0.420, 40020),
    (0.423, 37660), (0.426, 41640), (0.429, 34910), (0.432, 39380), (0.435, 42790), (0.438, 36550),
    (0.441, 40770), (0.444, 38010), (0.447, 35260), (0.450, 41560), (0.453, 37250), (0.456, 39830),
    (0.459, 34750), (0.462, 40290), (0.465, 37710), (0.468, 42010), (0.471, 35660), (0.474, 39120),
    (0.477, 36860), (0.480, 34180), (0.483, 38690), (0.486, 41400), (0.489, 36030), (0.492, 39510),
    (0.495, 34450), (0.498, 37920), (0.501, 40560), (0.504, 35190), (0.507, 38330), (0.510, 36480),
    (0.513, 40890), (0.516, 34760), (0.519, 37640),
]

X_LABEL = 'Pell Grant Recipients (%)'

sat_df = pd.DataFrame(sat_sparse + sat_dense + sat_fill + sat_core, columns=['pell', 'sat'])
earn_df = pd.DataFrame(earn_sparse + earn_dense + earn_fill + earn_core, columns=['pell', 'earnings'])

# -- Plot --------------------------------------------------------------------
sns.set_theme(style='whitegrid')
plt.rcParams['font.family'] = ['DejaVu Sans']
plt.rcParams['xtick.labelsize'] = 11.5
plt.rcParams['ytick.labelsize'] = 11.5
plt.rcParams['axes.labelsize'] = 11.5
plt.rcParams['axes.titlesize'] = 13.8

fig, axes = plt.subplots(1, 2, figsize=(9.45, 3.685), dpi=200)
dot = dict(color='#1f77b4', edgecolor='#1f77b4', alpha=0.45, s=10, linewidth=0.8)

sns.scatterplot(data=sat_df, x='pell', y='sat', ax=axes[0], **dot)
axes[0].set_title('Pell % vs. SAT Average')
axes[0].set_xlabel(X_LABEL)
axes[0].set_ylabel('Average SAT Score')

sns.scatterplot(data=earn_df, x='pell', y='earnings', ax=axes[1], **dot)
axes[1].set_title('Pell % vs. Median Earnings')
axes[1].set_xlabel(X_LABEL)
axes[1].set_ylabel('Median Earnings (10yr post)')

fig.subplots_adjust(left=0.0852, right=0.9903, bottom=0.152, top=0.915, wspace=0.288)
fig.savefig('out.png', dpi=200)
